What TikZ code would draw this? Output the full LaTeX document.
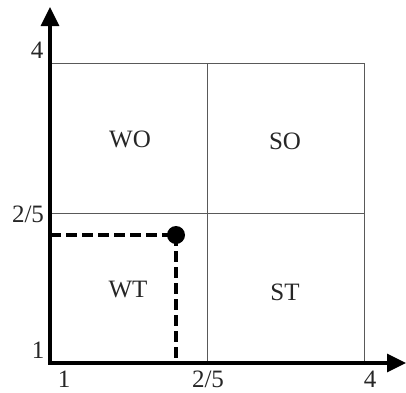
\documentclass[tikz,border=0pt]{standalone}
\usepackage{fontspec}
\setmainfont{Liberation Serif}
\usetikzlibrary{arrows.meta}
\begin{document}
\begin{tikzpicture}[x=1pt,y=-1pt,
  lbl/.style={font=\fontsize{25}{28}\selectfont, text=black!85, inner sep=0pt},
  axis/.style={line width=3.2pt, -{Triangle[length=19pt,width=18pt]}},
  gridline/.style={line width=1pt, black!65},
  dash line/.style={line width=3.6pt, dash pattern=on 11pt off 5pt},
  dotnode/.style={circle, fill=black, minimum size=18pt, inner sep=0pt}]
\useasboundingbox (0,0) rectangle (406,392);
% grid
\coordinate (g1) at (50,63);
\coordinate (g2) at (364,363);
\draw[gridline] (g1) rectangle (g2);
\coordinate (vt) at (207,63);
\coordinate (vb) at (207,363);
\coordinate (hl) at (50,213);
\coordinate (hr) at (364,213);
\draw[gridline] (vt) -- (vb);
\draw[gridline] (hl) -- (hr);
% axes
\coordinate (O) at (50,363);
\coordinate (ytop) at (50,7);
\coordinate (xend) at (406,363);
\draw[axis] ([yshift=1.6pt]O) -- (ytop);
\draw[axis] ([xshift=-1.6pt]O) -- (xend);
% point
\node[dotnode] (P) at (176,235) {};
\coordinate (py) at (50,235);
\coordinate (px) at (176,363);
\draw[dash line] (py) -- (P.center);
\draw[dash line] (P.center) -- (px);
% region labels
\node[lbl] (WO) at (130,139) {WO};
\node[lbl] (SO) at (285,141) {SO};
\node[lbl] (WT) at (128,289) {WT};
\node[lbl] (ST) at (285,292) {ST};
% tick labels
\node[lbl] (y4) at (37,50) {4};
\node[lbl] (y25) at (28,214) {2/5};
\node[lbl] (y1) at (38,350) {1};
\node[lbl] (x1) at (64,379) {1};
\node[lbl] (x25) at (208,379) {2/5};
\node[lbl] (x4) at (370,379) {4};
\end{tikzpicture}
\end{document}
